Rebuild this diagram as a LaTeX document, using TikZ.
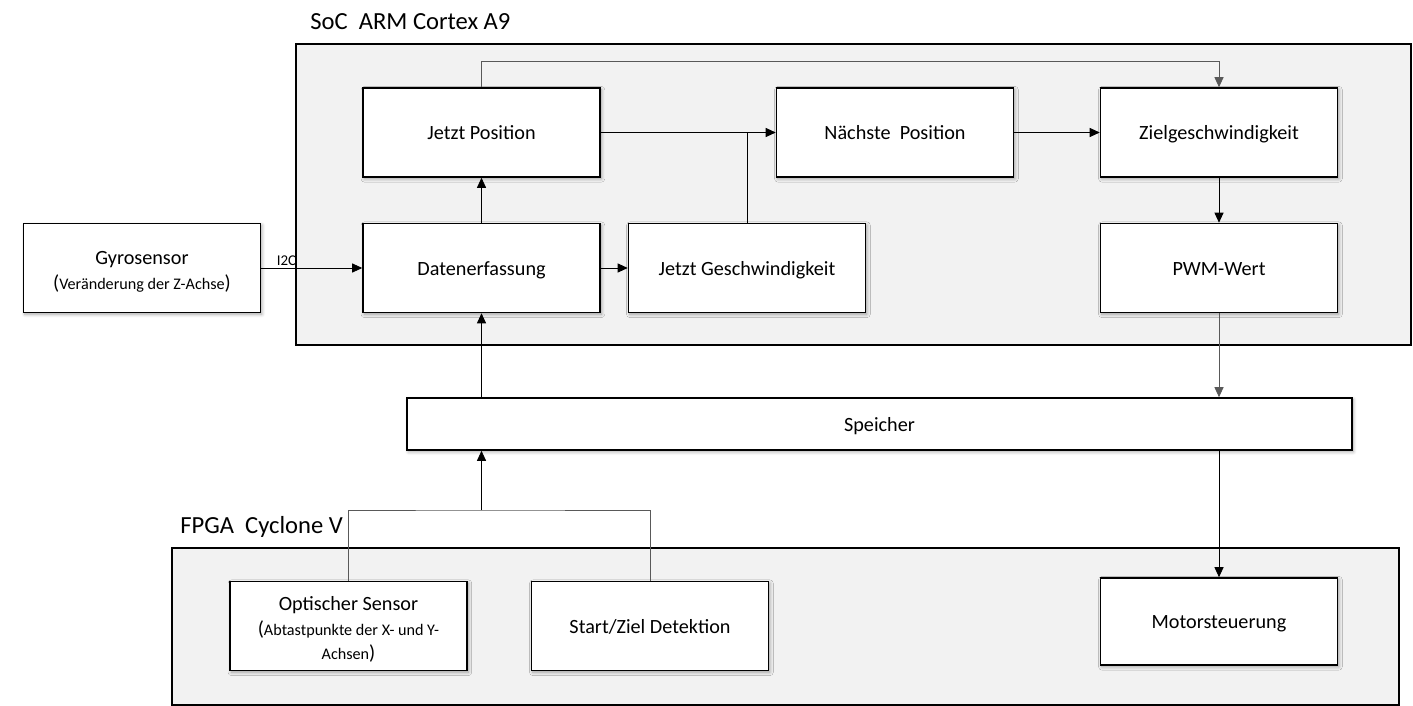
\documentclass[tikz,border=0pt]{standalone}
\usepackage{fontspec}
\setmainfont{Carlito}
\usetikzlibrary{arrows.meta,shadows.blur}
\newcommand{\subsize}{\fontsize{9.2}{11}\selectfont}
\tikzset{
  block/.style={draw,line width=0.9pt,fill=white,minimum width=4.74cm,minimum height=1.78cm,
    inner sep=2pt,align=center,font=\fontsize{11.5}{14}\selectfont,
    blur shadow={shadow blur steps=6,shadow xshift=0.8pt,shadow yshift=-1pt,shadow opacity=35}},
  oneline/.style={block,text height=9pt,text depth=1pt},
  container/.style={draw,line width=0.9pt,fill=black!5},
  title/.style={anchor=base west,inner sep=0pt,font=\fontsize{14}{16}\selectfont},
  arr/.style={-{Triangle[length=2mm,width=1.8mm]},line width=0.5pt},
  grayarr/.style={arr,black!65},
  grayline/.style={line width=0.5pt,black!65}
}

\begin{document}
\begin{tikzpicture}[x=0.02cm,y=-0.02cm]
\useasboundingbox (0,0) rectangle (1413,706);

% Containers
\draw[container] (296,44) rectangle (1411,345);
\draw[container] (172,548) rectangle (1399,705);
\node[title] (soc) at (310,30) {SoC~~ARM Cortex A9};
\node[title] (fpga) at (180,533) {FPGA~~Cyclone V};

% SoC blocks
\node[oneline] (jpos) at (481.5,132.5) {Jetzt Position};
\node[oneline] (npos) at (895,132.5) {Nächste~~Position};
\node[oneline] (zgesch) at (1219,132.5) {Zielgeschwindigkeit};
\node[oneline] (daten) at (481.5,268) {Datenerfassung};
\node[oneline] (jgesch) at (747,268) {Jetzt Geschwindigkeit};
\node[oneline] (pwm) at (1219,268) {PWM-Wert};

% Outside blocks
\node[block] (gyro) at (142,268) {\rule{0pt}{11.5pt}Gyrosensor\\[0pt]({\subsize Veränderung der Z-Achse})};
\node[oneline,minimum width=18.9cm,minimum height=1.04cm] (speicher) at (879.5,424) {Speicher};

% FPGA blocks
\node[block] (opt) at (348.5,626) {\rule{0pt}{12pt}Optischer Sensor\\[0pt]({\subsize Abtastpunkte der X- und Y-}\\[0pt]{\subsize Achsen})};
\node[oneline] (start) at (650,626) {Start/Ziel Detektion};
\node[oneline,minimum height=1.74cm] (motor) at (1219,621.5) {Motorsteuerung};

% Connections
\draw[arr] (gyro) -- node[pos=0.25,above,inner sep=1pt,font=\fontsize{8.5}{10}\selectfont] {I2C} (daten);
\draw[arr] (daten) -- (jpos);
\draw[arr] (daten) -- (jgesch);
\draw[arr] (jpos) -- (npos);
\draw[line width=0.5pt] (jgesch.north) -- (jgesch.north |- npos.west);
\coordinate (loop) at (481.5,61);
\draw[grayline] (jpos.north) -- (loop);
\draw[grayarr] (loop) -| (zgesch.north);
\draw[arr] (npos) -- (zgesch);
\draw[arr] (zgesch) -- (pwm);
\draw[grayarr] (pwm) -- (pwm.south |- speicher.north);
\draw[arr] (speicher.south -| motor.north) -- (motor);
\draw[arr] (speicher.north -| daten.south) -- (daten);

% Merge of FPGA signals
\coordinate (merge) at (481.5,510);
\draw[grayline] (opt.north) |- (merge) -| (start.north);
\draw[arr] (merge) -- (merge |- speicher.south);

\end{tikzpicture}
\end{document}
